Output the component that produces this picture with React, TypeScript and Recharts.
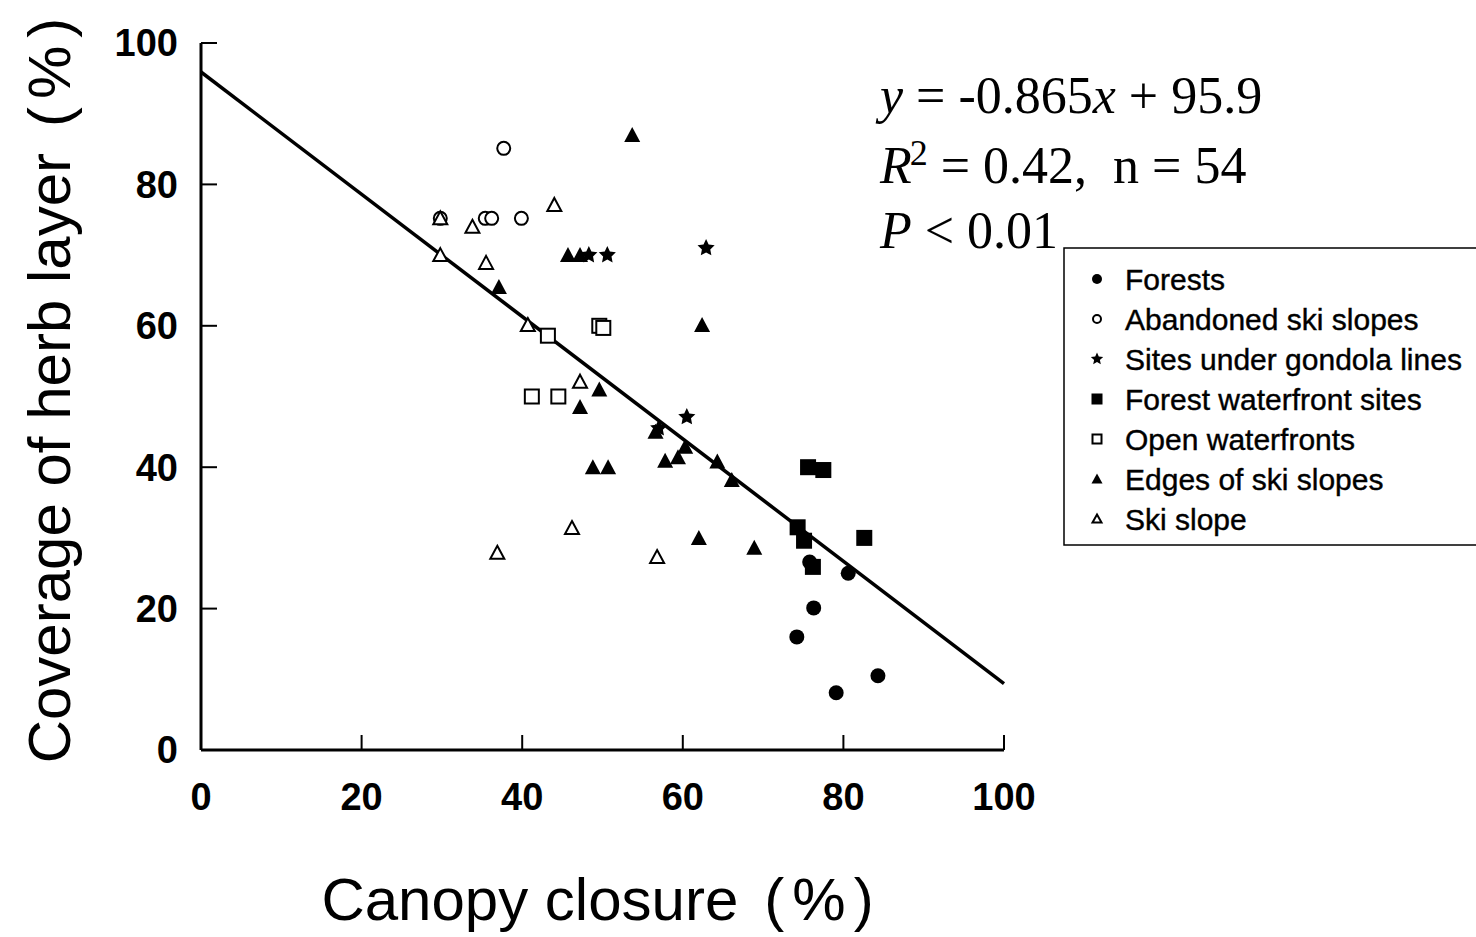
import React from 'react';
import { ScatterChart, Scatter, XAxis, YAxis, ReferenceLine, Label } from 'recharts';

// Canopy closure (x) vs coverage of herb layer (y), by site type
const forests = [
  { x: 75.8, y: 26.6 }, { x: 80.6, y: 25.0 }, { x: 76.3, y: 20.1 },
  { x: 74.2, y: 16.0 }, { x: 84.3, y: 10.5 }, { x: 79.1, y: 8.1 },
];
const abandonedSlopes = [
  { x: 37.7, y: 85.1 }, { x: 29.8, y: 75.2 }, { x: 35.4, y: 75.2 },
  { x: 36.2, y: 75.2 }, { x: 39.9, y: 75.2 },
];
const gondolaSites = [
  { x: 48.3, y: 70.0 }, { x: 50.6, y: 70.0 }, { x: 62.9, y: 71.0 },
  { x: 60.5, y: 47.1 }, { x: 57.0, y: 45.5 },
];
const forestWaterfronts = [
  { x: 75.6, y: 40.0 }, { x: 77.5, y: 39.6 }, { x: 74.3, y: 31.5 },
  { x: 75.1, y: 29.6 }, { x: 82.6, y: 30.0 }, { x: 76.2, y: 25.9 },
];
const openWaterfronts = [
  { x: 43.2, y: 58.6 }, { x: 49.6, y: 60.0 }, { x: 50.1, y: 59.7 },
  { x: 41.2, y: 50.0 }, { x: 44.5, y: 50.0 },
];
const slopeEdges = [
  { x: 53.7, y: 87.0 }, { x: 37.1, y: 65.5 }, { x: 45.7, y: 70.0 },
  { x: 47.2, y: 70.0 }, { x: 62.4, y: 60.1 }, { x: 49.6, y: 51.0 },
  { x: 47.2, y: 48.5 }, { x: 60.3, y: 42.9 }, { x: 59.4, y: 41.4 },
  { x: 57.8, y: 40.9 }, { x: 48.8, y: 40.0 }, { x: 50.7, y: 40.0 },
  { x: 64.3, y: 40.8 }, { x: 66.1, y: 38.2 }, { x: 62.0, y: 30.0 },
  { x: 68.9, y: 28.6 }, { x: 56.6, y: 45.0 },
];
const skiSlopes = [
  { x: 29.8, y: 75.2 }, { x: 33.8, y: 74.0 }, { x: 44.0, y: 77.1 },
  { x: 29.8, y: 70.0 }, { x: 35.5, y: 68.9 }, { x: 40.7, y: 60.1 },
  { x: 47.2, y: 52.1 }, { x: 46.2, y: 31.4 }, { x: 36.9, y: 27.9 },
  { x: 56.8, y: 27.3 },
];

const xTicks = [0, 20, 40, 60, 80, 100];
const yTicks = [0, 20, 40, 60, 80, 100];

// regression reported on the figure
const slope = -0.865;
const intercept = 95.9;
const fitStart = { x: 0, y: intercept };
const fitEnd = { x: 100, y: intercept + slope * 100 };

type Kind = 'dot' | 'ring' | 'star' | 'square' | 'box' | 'tri' | 'openTri';

const groups: { name: string; data: { x: number; y: number }[]; kind: Kind }[] = [
  { name: 'Forests', data: forests, kind: 'dot' },
  { name: 'Abandoned ski slopes', data: abandonedSlopes, kind: 'ring' },
  { name: 'Sites under gondola lines', data: gondolaSites, kind: 'star' },
  { name: 'Forest waterfront sites', data: forestWaterfronts, kind: 'square' },
  { name: 'Open waterfronts', data: openWaterfronts, kind: 'box' },
  { name: 'Edges of ski slopes', data: slopeEdges, kind: 'tri' },
  { name: 'Ski slope', data: skiSlopes, kind: 'openTri' },
];

const SANS = '"Liberation Sans", Arial, sans-serif';
const SERIF = '"Liberation Serif", "Times New Roman", serif';

function Marker({ kind, cx, cy, size }: { kind: Kind; cx: number; cy: number; size: number }) {
  const h = size / 2;
  switch (kind) {
    case 'dot':
      return <circle cx={cx} cy={cy} r={h - 0.5} fill="#000" />;
    case 'ring':
      return <circle cx={cx} cy={cy} r={h - 1.5} fill="#fff" stroke="#000" strokeWidth={2} />;
    case 'star': {
      const pts: string[] = [];
      for (let i = 0; i < 10; i++) {
        const r = i % 2 === 0 ? h + 1 : h * 0.55;
        const a = (Math.PI / 5) * i - Math.PI / 2;
        pts.push(`${cx + r * Math.cos(a)},${cy + r * Math.sin(a)}`);
      }
      return <polygon points={pts.join(' ')} fill="#000" />;
    }
    case 'square':
      return <rect x={cx - h} y={cy - h} width={size} height={size} fill="#000" />;
    case 'box':
      return <rect x={cx - h + 1} y={cy - h + 1} width={size - 2} height={size - 2} fill="#fff" stroke="#000" strokeWidth={2} />;
    case 'tri':
      return <polygon points={`${cx},${cy - h} ${cx + h},${cy + h - 1} ${cx - h},${cy + h - 1}`} fill="#000" />;
    case 'openTri':
      return (
        <polygon
          points={`${cx},${cy - h + 1} ${cx + h - 1},${cy + h - 2} ${cx - h + 1},${cy + h - 2}`}
          fill="#fff"
          stroke="#000"
          strokeWidth={2}
        />
      );
  }
  return null;
}

const Y_MARGIN = 23;
const X_MARGIN = 33;

function YTick(p: any) {
  const ax = p.x + Y_MARGIN;
  return (
    <g>
      <line x1={ax} x2={ax + 16} y1={p.y} y2={p.y} stroke="#000" strokeWidth={2} />
      <text x={p.x} y={p.y} dy="0.355em" textAnchor="end" fontFamily={SANS} fontWeight="bold" fontSize={38} fill="#000">
        {p.payload.value}
      </text>
    </g>
  );
}

function XTick(p: any) {
  const ay = p.y - X_MARGIN;
  return (
    <g>
      <line x1={p.x} x2={p.x} y1={ay} y2={ay - 15} stroke="#000" strokeWidth={2} />
      <text x={p.x} y={p.y} dy="0.71em" textAnchor="middle" fontFamily={SANS} fontWeight="bold" fontSize={38} fill="#000">
        {p.payload.value}
      </text>
    </g>
  );
}

function Percent() {
  return (
    <>
      <tspan dx={26}>(</tspan>
      <tspan dx={8}>%</tspan>
      <tspan dx={8}>)</tspan>
    </>
  );
}

function YTitle(p: any) {
  const vb = p.viewBox || { x: 81, y: 43, width: 120, height: 707 };
  const x = vb.x - 32;
  const y = vb.y + vb.height / 2 - 6;
  return (
    <text
      x={x}
      y={y}
      transform={`rotate(-90, ${x}, ${y})`}
      textAnchor="middle"
      dominantBaseline="central"
      fontFamily={SANS}
      fontSize={60}
      fill="#000"
    >
      Coverage of herb layer
      <Percent />
    </text>
  );
}

function XTitle(p: any) {
  const vb = p.viewBox || { x: 201, y: 750, width: 803, height: 80 };
  return (
    <text x={vb.x + vb.width / 2 - 5} y={vb.y + 170} textAnchor="middle" fontFamily={SANS} fontSize={60} fill="#000">
      Canopy closure
      <Percent />
    </text>
  );
}

export default function App() {
  return (
    <div style={{ position: 'absolute', left: 0, top: 0, width: 1476, height: 937, background: '#fff', overflow: 'hidden' }}>
      <ScatterChart width={1476} height={937} margin={{ top: 43, right: 472, bottom: 107, left: 81 }}>
        <XAxis
          type="number"
          dataKey="x"
          domain={[0, 100]}
          ticks={xTicks}
          height={80}
          tickSize={0}
          tickMargin={X_MARGIN}
          tick={<XTick />}
          axisLine={{ stroke: '#000', strokeWidth: 3 }}
        >
          <Label content={<XTitle />} />
        </XAxis>
        <YAxis
          type="number"
          dataKey="y"
          domain={[0, 100]}
          ticks={yTicks}
          width={120}
          tickSize={0}
          tickMargin={Y_MARGIN}
          tick={<YTick />}
          axisLine={{ stroke: '#000', strokeWidth: 3 }}
        >
          <Label content={<YTitle />} />
        </YAxis>
        <ReferenceLine segment={[fitStart, fitEnd]} stroke="#000" strokeWidth={3.5} ifOverflow="visible" />
        {groups.map((g) => (
          <Scatter
            key={g.name}
            name={g.name}
            data={g.data}
            isAnimationActive={false}
            shape={(p: any) => <Marker kind={g.kind} cx={p.cx} cy={p.cy} size={16} />}
          />
        ))}
      </ScatterChart>
      <svg width={1476} height={937} style={{ position: 'absolute', left: 0, top: 0, pointerEvents: 'none' }}>
        <g fontFamily={SERIF} fontSize={52} fill="#000">
          <text x={880} y={113}>
            <tspan fontStyle="italic">y</tspan> = -0.865<tspan fontStyle="italic">x</tspan> + 95.9
          </text>
          <text x={880} y={183}>
            <tspan fontStyle="italic">R</tspan>
            <tspan fontSize={36} dy={-18} dx={-2}>2</tspan>
            <tspan dy={18}>{'\u00a0= 0.42,\u00a0\u00a0n = 54'}</tspan>
          </text>
          <text x={880} y={248}>
            <tspan fontStyle="italic">P</tspan> &lt; 0.01
          </text>
        </g>
        <rect x={1064} y={248} width={430} height={297} fill="#fff" stroke="#000" strokeWidth={1.5} />
        {groups.map((g, i) => (
          <g key={g.name}>
            <Marker kind={g.kind} cx={1097} cy={279 + i * 40} size={11} />
            <text
              x={1125}
              y={279 + i * 40}
              dy="0.36em"
              fontFamily={SANS}
              fontSize={30}
              fill="#000"
              stroke="#000"
              strokeWidth={0.4}
            >
              {g.name}
            </text>
          </g>
        ))}
      </svg>
    </div>
  );
}
